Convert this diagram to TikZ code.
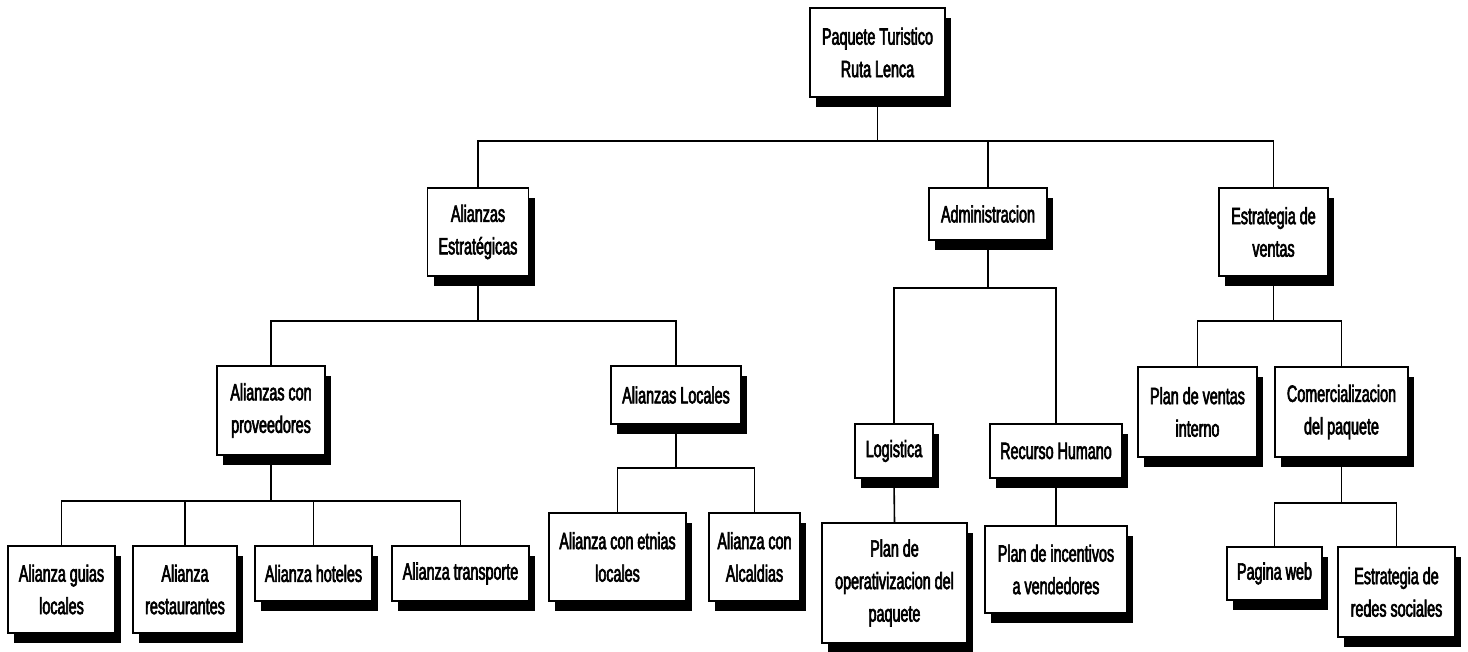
\documentclass[tikz,border=0pt]{standalone}
\usepackage{fontspec}
\setmainfont[FakeStretch=0.61,FakeBold=2.6]{Liberation Sans}
\usetikzlibrary{shadows}
\begin{document}
\begin{tikzpicture}[x=1pt,y=-1pt,
  orgbox/.style={draw=black, line width=1.9pt, fill=white, align=center,
    inner sep=2pt, font={\fontsize{23.5}{32.5}\selectfont},
    general shadow={fill=black, shadow xshift=6pt, shadow yshift=-10pt}},
  link/.style={draw=black, line width=1.6pt}]
\useasboundingbox (0,0) rectangle (1468,652);
\fill[white] (0,0) rectangle (1468,652);

% heights of the horizontal branch bars
\coordinate (b0) at (0,141);
\coordinate (b1) at (0,321);
\coordinate (b2) at (0,501);
\coordinate (b3) at (0,468);
\coordinate (b4) at (0,288);
\coordinate (b5) at (0,321);
\coordinate (b6) at (0,503);

% boxes
\node[orgbox, minimum width=135pt, minimum height=89pt] (root) at (877.5,52.5) {Paquete Turistico\\Ruta Lenca};

\node[orgbox, minimum width=101pt, minimum height=88pt] (ae) at (478,232) {Alianzas\\Estratégicas};
\node[orgbox, minimum width=118pt, minimum height=52pt] (adm) at (988,214) {Administracion};
\node[orgbox, minimum width=109pt, minimum height=88pt] (ev) at (1273.5,232) {Estrategia de\\ventas};

\node[orgbox, minimum width=108pt, minimum height=89pt] (prov) at (271,410.5) {Alianzas con\\proveedores};
\node[orgbox, minimum width=130pt, minimum height=58pt] (loc) at (676,395) {Alianzas Locales};

\node[orgbox, minimum width=107pt, minimum height=87pt] (g1) at (61.5,589.5) {Alianza guias\\locales};
\node[orgbox, minimum width=104pt, minimum height=87pt] (g2) at (185,589.5) {Alianza\\restaurantes};
\node[orgbox, minimum width=117pt, minimum height=55pt] (g3) at (313.5,573.5) {Alianza hoteles};
\node[orgbox, minimum width=137pt, minimum height=55pt] (g4) at (460.5,573.5) {Alianza transporte};

\node[orgbox, minimum width=137pt, minimum height=88pt] (l1) at (617.5,557) {Alianza con etnias\\locales};
\node[orgbox, minimum width=91pt, minimum height=88pt] (l2) at (754.5,557) {Alianza con\\Alcaldias};

\node[orgbox, minimum width=78pt, minimum height=54pt] (log) at (894,451) {Logistica};
\node[orgbox, minimum width=132pt, minimum height=54pt] (rh) at (1056,451) {Recurso Humano};
\node[orgbox, minimum width=145pt, minimum height=120pt] (po) at (894.5,583) {Plan de\\operativizacion del\\paquete};
\node[orgbox, minimum width=142pt, minimum height=87pt] (pi) at (1056,569.5) {Plan de incentivos\\a vendedores};

\node[orgbox, minimum width=119pt, minimum height=90pt] (pv) at (1197.5,412) {Plan de ventas\\interno};
\node[orgbox, minimum width=133pt, minimum height=90pt] (com) at (1341.5,412) {Comercializacion\\del paquete};
\node[orgbox, minimum width=95pt, minimum height=53pt] (pw) at (1274.5,573.5) {Pagina web};
\node[orgbox, minimum width=117pt, minimum height=90pt] (rs) at (1396.5,592) {Estrategia de\\redes sociales};

% connectors
\path[link] (root.south) -- (root.south |- b0);
\path[link] (ae.north) |- (root.south |- b0);
\path[link] (adm.north) |- (root.south |- b0);
\path[link] (ev.north) |- (root.south |- b0);

\path[link] (ae.south) -- (ae.south |- b1);
\path[link] (prov.north) |- (ae.south |- b1);
\path[link] (loc.north) |- (ae.south |- b1);

\path[link] (prov.south) -- (prov.south |- b2);
\path[link] (g1.north) |- (prov.south |- b2);
\path[link] (g2.north) |- (prov.south |- b2);
\path[link] (g3.north) |- (prov.south |- b2);
\path[link] (g4.north) |- (prov.south |- b2);

\path[link] (loc.south) -- (loc.south |- b3);
\path[link] (l1.north) |- (loc.south |- b3);
\path[link] (l2.north) |- (loc.south |- b3);

\path[link] (adm.south) -- (adm.south |- b4);
\path[link] (log.north) |- (adm.south |- b4);
\path[link] (rh.north) |- (adm.south |- b4);
\path[link] (log.south) -- (po.north);
\path[link] (rh.south) -- (pi.north);

\path[link] (ev.south) -- (ev.south |- b5);
\path[link] (pv.north) |- (ev.south |- b5);
\path[link] (com.north) |- (ev.south |- b5);

\path[link] (com.south) -- (com.south |- b6);
\path[link] (pw.north) |- (com.south |- b6);
\path[link] (rs.north) |- (com.south |- b6);
\end{tikzpicture}
\end{document}
